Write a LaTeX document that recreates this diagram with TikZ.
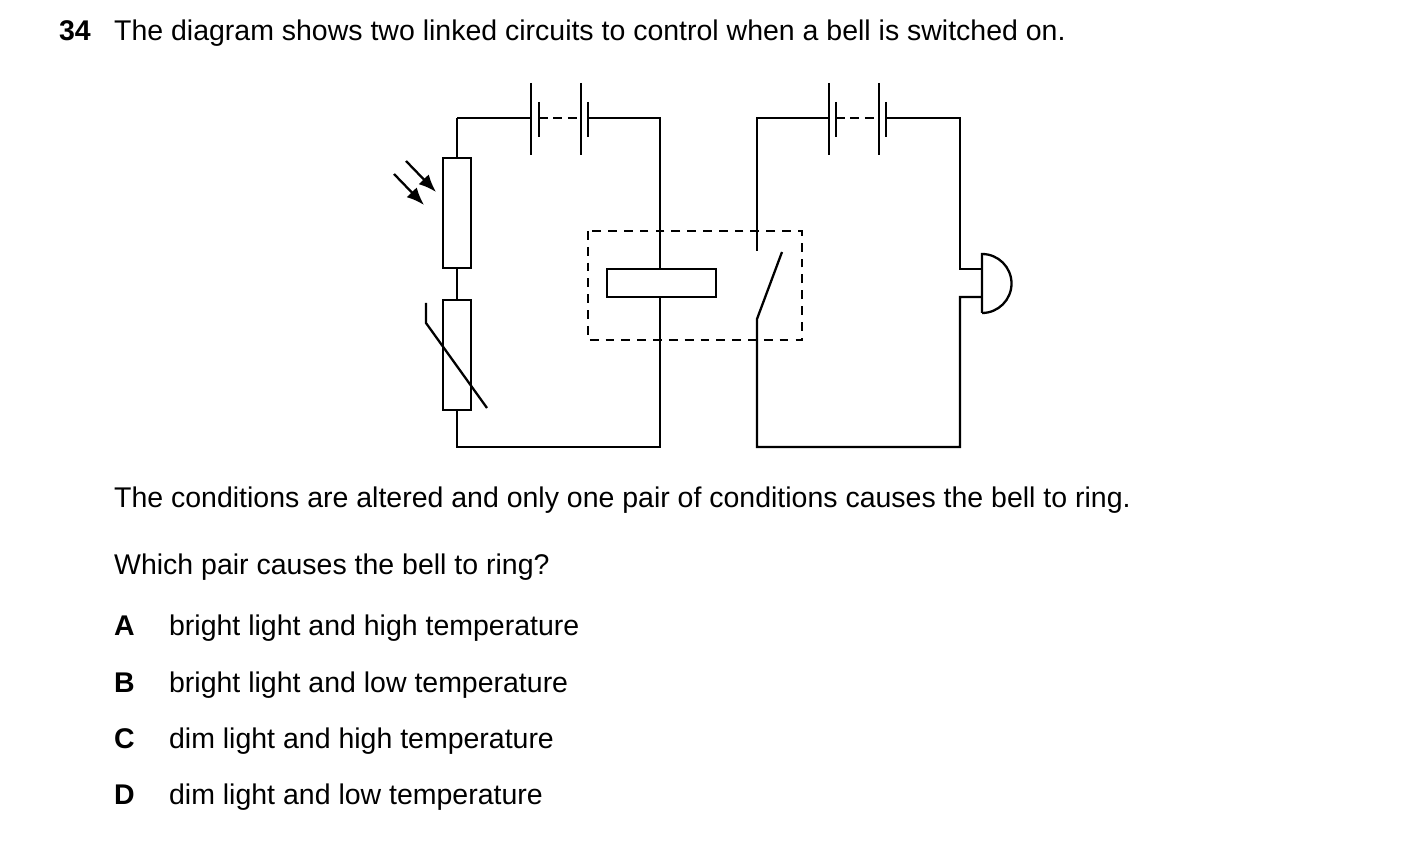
\documentclass[tikz,border=0pt]{standalone}
\usepackage{fontspec}
\setmainfont{Liberation Sans}
\usetikzlibrary{arrows.meta}
\begin{document}
\begin{tikzpicture}[x=0.01cm,y=-0.01cm,line width=0.65pt,
    txt/.style={anchor=base west,inner sep=0pt,font=\fontsize{8.1}{9}\selectfont},
    lbl/.style={txt,font=\fontsize{8.1}{9}\selectfont\bfseries}]
\useasboundingbox (0,0) rectangle (1403,861);
% ------ texte ------
\node[lbl] (num) at (58,41) {34};
\node[txt] (q) at (113,41) {The diagram shows two linked circuits to control when a bell is switched on.};
\node[txt] (cond) at (113,508) {The conditions are altered and only one pair of conditions causes the bell to ring.};
\node[txt] (which) at (113,574) {Which pair causes the bell to ring?};
\foreach \l/\t/\y in {A/bright light and high temperature/635,B/bright light and low temperature/692,
    C/dim light and high temperature/748,D/dim light and low temperature/804}{
  \node[lbl] (opt\l) at (113,\y) {\l};
  \node[txt] (txt\l) at (168,\y) {\t};}
% ------ circuit de gauche ------
\coordinate (L1) at (457,118);  \coordinate (L2) at (660,118);
\coordinate (L3) at (660,447);  \coordinate (L4) at (457,447);
\draw (L1) -- (531,118);  \draw (588,118) -- (L2) -- (L3) -- (L4) -- (457,410);
\draw (531,83) -- (531,155);  \draw (539,102) -- (539,137);
\draw (581,83) -- (581,155);  \draw (588,102) -- (588,137);
\draw[dash pattern=on 2.5pt off 1.6pt] (539,118) -- (581,118);
\draw (L1) -- (457,158);  \draw (457,268) -- (457,300);
\draw[fill=white] (443,158) rectangle (471,268);   % LDR
\draw[-{Latex[length=5pt,width=4pt]}] (406,161) -- (436,192);
\draw[-{Latex[length=5pt,width=4pt]}] (394,174) -- (424,205);
\draw[fill=white] (443,300) rectangle (471,410);   % thermistance
\draw (426,303) -- (426,323) -- (487,408);
\draw[fill=white] (607,269) rectangle (716,297);   % bobine du relais
% ------ circuit de droite ------
\coordinate (R1) at (757,118);  \coordinate (R2) at (960,118);
\coordinate (R3) at (960,447);  \coordinate (R4) at (757,447);
\draw (757,251) -- (R1) -- (829,118);  \draw (886,118) -- (R2) -- (960,269) -- (982,269);
\draw (982,297) -- (960,297) -- (R3) -- (R4) -- (757,319) -- (782,252);
\draw (829,83) -- (829,155);  \draw (836,102) -- (836,137);
\draw (879,83) -- (879,155);  \draw (886,102) -- (886,137);
\draw[dash pattern=on 2.5pt off 1.6pt] (836,118) -- (879,118);
\draw (982,313) -- (982,254) arc (-90:90:29.5);    % sonnerie
\draw[line width=0.4pt,dash pattern=on 2.5pt off 2pt] (588,231) rectangle (802,340);
\end{tikzpicture}
\end{document}
